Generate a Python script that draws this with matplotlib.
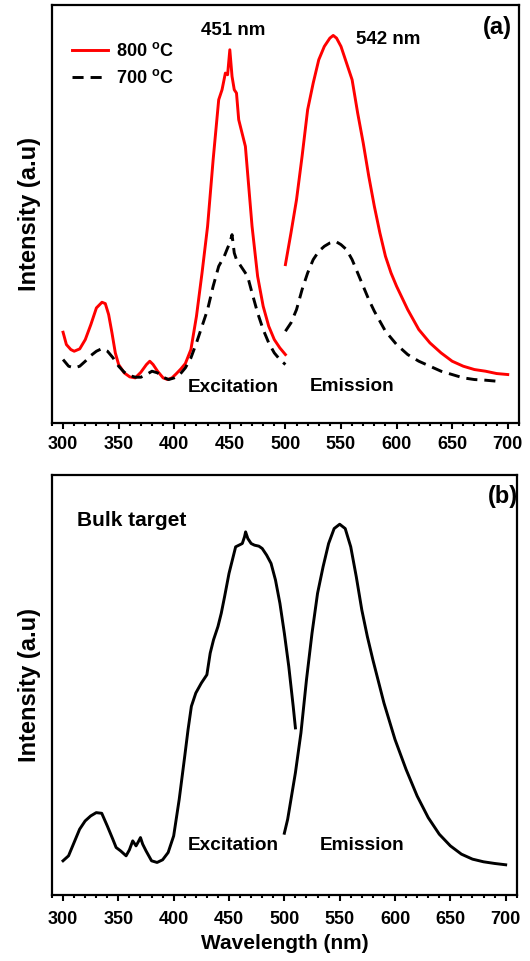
import numpy as np
import matplotlib
matplotlib.use('Agg')
import matplotlib.pyplot as plt
from matplotlib.ticker import MultipleLocator

plt.rcParams['font.family'] = ['Liberation Sans', 'DejaVu Sans']
plt.rcParams['font.weight'] = 'bold'
plt.rcParams['xtick.labelsize'] = 13
plt.rcParams['mathtext.fontset'] = 'custom'
plt.rcParams['mathtext.rm'] = 'Liberation Sans:bold'
plt.rcParams['mathtext.bf'] = 'Liberation Sans:bold'
plt.rcParams['lines.solid_joinstyle'] = 'round'
plt.rcParams['lines.dash_capstyle'] = 'butt'

# (a) 800 C film, excitation + emission
red_exc_nm = [300, 303, 307, 310, 315, 320, 325, 330, 335, 338, 341, 344, 347, 350,
              355, 360, 365, 370, 375, 378, 381, 385, 390, 394, 398, 402, 406, 410,
              415, 420, 425, 430, 435, 440, 443, 446, 448, 450, 452, 454, 456, 458,
              461, 464, 467, 470, 475, 480, 485, 490, 495, 500]
red_exc = [27.2, 23.5, 22.0, 21.5, 22.2, 25.0, 29.5, 34.5, 36.2, 35.8, 32.5, 27.0, 21.0, 17.5,
           15.0, 13.8, 13.5, 15.2, 17.5, 18.5, 17.5, 15.5, 13.5, 13.0, 13.5, 14.8, 16.2, 17.8,
           22.0, 32.0, 45.0, 59.0, 79.0, 97.0, 100.0, 105.0, 104.5, 112.0, 104.0, 100.0, 99.0, 91.0,
           87.0, 83.0, 71.0, 59.0, 44.0, 35.0, 29.0, 25.0, 22.5, 20.5]
red_em_nm = [500, 505, 510, 515, 520, 525, 530, 535, 540, 543, 546, 550, 555, 560, 565,
             570, 575, 580, 585, 590, 595, 600, 610, 620, 630, 640, 650, 660, 670, 680,
             690, 700]
red_em = [47.5, 57.0, 67.0, 80.0, 94.0, 102.0, 109.0, 113.0, 115.5, 116.3, 115.5, 113.0,
          108.0, 103.0, 93.0, 84.0, 74.0, 65.0, 57.0, 50.0, 45.0, 41.0, 34.0, 28.0, 24.0,
          21.0, 18.5, 17.0, 16.0, 15.5, 14.8, 14.5]

# (a) 700 C film
blk_exc_nm = [300, 305, 310, 315, 320, 325, 330, 335, 340, 345, 350, 355, 360, 365, 370,
              375, 380, 385, 390, 395, 400, 405, 410, 415, 420, 425, 430, 435, 440, 445,
              448, 450, 452, 454, 456, 460, 463, 466, 470, 475, 480, 485, 490, 495, 500]
blk_exc = [19.0, 17.0, 16.5, 17.0, 18.5, 20.2, 21.5, 22.3, 21.5, 19.5, 17.0, 15.2, 14.2,
           13.7, 13.7, 14.5, 15.5, 15.0, 13.7, 13.0, 13.5, 14.5, 16.5, 19.5, 24.0, 29.0,
           34.0, 41.0, 47.0, 50.0, 52.5, 54.0, 56.5, 51.0, 49.0, 47.0, 45.5, 44.0, 39.0,
           33.0, 28.0, 24.0, 21.0, 19.0, 17.5]
blk_em_nm = [500, 505, 510, 515, 520, 525, 530, 535, 540, 545, 550, 555, 560, 565, 570,
             575, 580, 590, 600, 610, 620, 630, 640, 650, 660, 670, 680, 690, 695]
blk_em = [27.5, 30.0, 34.0, 40.0, 45.0, 49.0, 51.5, 53.0, 54.0, 54.5, 53.5, 52.0, 49.0,
          45.0, 41.0, 37.0, 33.5, 27.5, 23.5, 20.5, 18.5, 17.0, 15.5, 14.5, 13.5, 13.0,
          12.8, 12.5, 12.3]

# (b) bulk target
bulk_exc_nm = [300, 305, 310, 315, 320, 325, 330, 335, 340, 345, 348, 352, 357, 360, 363,
               366, 368, 370, 372, 375, 380, 385, 390, 395, 400, 405, 410, 413, 416, 420,
               425, 430, 433, 436, 440, 443, 446, 450, 453, 456, 459, 462, 464, 465, 467,
               470, 473, 477, 480, 484, 488, 492, 496, 500, 504, 508, 510]
bulk_exc = [10.2, 11.7, 15.7, 19.7, 22.2, 23.7, 24.7, 24.5, 20.7, 16.7, 14.2, 13.2, 11.7,
            13.5, 16.2, 14.7, 15.9, 17.2, 15.2, 13.2, 10.2, 9.7, 10.5, 12.7, 17.7, 28.7,
            41.7, 49.7, 56.7, 60.7, 63.7, 66.2, 72.7, 76.7, 80.7, 84.7, 89.7, 96.7, 100.7,
            104.7, 105.2, 105.7, 107.7, 109.2, 107.2, 105.7, 105.2, 104.9, 104.2, 102.2,
            99.7, 94.7, 87.7, 78.7, 68.7, 56.7, 50.2]
bulk_em_nm = [500, 503, 506, 510, 515, 520, 525, 530, 535, 540, 545, 550, 555, 560, 565,
              570, 575, 580, 590, 600, 610, 620, 630, 640, 650, 660, 670, 680, 690, 700]
bulk_em = [18.5, 22.7, 28.7, 36.7, 48.7, 64.7, 78.7, 90.7, 98.7, 105.7, 110.2, 111.5,
           110.2, 104.7, 95.7, 85.7, 77.7, 70.7, 57.7, 46.7, 37.7, 29.7, 23.2, 18.2, 14.7,
           12.2, 10.7, 9.9, 9.4, 9.0]

xticks = [300, 350, 400, 450, 500, 550, 600, 650, 700]


def style_axis(ax, ylim, pad):
    ax.set_xlim(290, 710)
    ax.set_ylim(*ylim)
    ax.set_yticks([])
    ax.set_xticks(xticks)
    ax.set_xticklabels([str(t) for t in xticks], fontsize=13, fontweight='bold')
    ax.xaxis.set_minor_locator(MultipleLocator(10))
    ax.tick_params(axis='x', which='major', direction='out', length=4, width=1.5, pad=pad)
    ax.tick_params(axis='x', which='minor', direction='out', length=2.3, width=1.5)
    for sp in ax.spines.values():
        sp.set_linewidth(1.6)
    ax.set_ylabel('Intensity (a.u)', fontsize=17, fontweight='bold', labelpad=8)


fig = plt.figure(figsize=(5.3, 9.61), dpi=100)
ax1 = fig.add_axes([0.098, 0.56, 0.881, 0.435])
ax2 = fig.add_axes([0.098, 0.069, 0.877, 0.437])

# panel (a)
ax1.plot(red_exc_nm, red_exc, color='#ff0000', lw=2.1, label='800 $^{\\mathrm{o}}$C')
ax1.plot(red_em_nm, red_em, color='#ff0000', lw=2.1)
ax1.plot(blk_exc_nm, blk_exc, color='black', lw=2.1, ls=(0, (3.8, 2.4)),
         label='700 $^{\\mathrm{o}}$C')
ax1.plot(blk_em_nm, blk_em, color='black', lw=2.1, ls=(0, (3.8, 2.4)))
style_axis(ax1, (0, 125.5), pad=5.5)
ax1.legend(loc='upper left', bbox_to_anchor=(0.043, 0.911), frameon=False, fontsize=13,
           handlelength=2.0, handletextpad=0.45, labelspacing=0.5, borderpad=0,
           borderaxespad=0)
ax1.text(0.388, 0.938, '451 nm', transform=ax1.transAxes, ha='center', va='center',
         fontsize=13.5, fontweight='bold')
ax1.text(0.72, 0.916, '542 nm', transform=ax1.transAxes, ha='center', va='center',
         fontsize=13.5, fontweight='bold')
ax1.text(0.955, 0.945, '(a)', transform=ax1.transAxes, ha='center', va='center',
         fontsize=17, fontweight='bold')
ax1.text(0.388, 0.084, 'Excitation', transform=ax1.transAxes, ha='center', va='center',
         fontsize=13.7, fontweight='bold')
ax1.text(0.642, 0.086, 'Emission', transform=ax1.transAxes, ha='center', va='center',
         fontsize=13.7, fontweight='bold')

# panel (b)
ax2.plot(bulk_exc_nm, bulk_exc, color='black', lw=2.1)
ax2.plot(bulk_em_nm, bulk_em, color='black', lw=2.1)
style_axis(ax2, (0, 126.4), pad=8)
ax2.set_xlabel('Wavelength (nm)', fontsize=15, fontweight='bold', labelpad=4)
ax2.text(0.97, 0.948, '(b)', transform=ax2.transAxes, ha='center', va='center',
         fontsize=17, fontweight='bold')
ax2.text(0.053, 0.89, 'Bulk target', transform=ax2.transAxes, ha='left', va='center',
         fontsize=15, fontweight='bold')
ax2.text(0.389, 0.117, 'Excitation', transform=ax2.transAxes, ha='center', va='center',
         fontsize=13.7, fontweight='bold')
ax2.text(0.667, 0.117, 'Emission', transform=ax2.transAxes, ha='center', va='center',
         fontsize=13.7, fontweight='bold')

fig.savefig('out.png', dpi=100)
